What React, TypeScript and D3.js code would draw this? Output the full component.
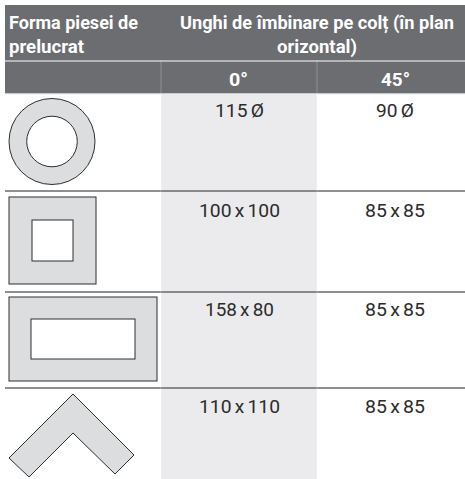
import React, { useEffect, useRef } from "react";
import * as d3 from "d3";

// table content
const headerShape = ["Forma piesei de", "prelucrat"];
const headerAngle = ["Unghi de îmbinare pe colț (în plan", "orizontal)"];
const angleLabels = ["0°", "45°"];
const values0 = ["115 Ø", "100 x 100", "158 x 80", "110 x 110"];
const values45 = ["90 Ø", "85 x 85", "85 x 85", "85 x 85"];

// workpiece outlines, in the drawing's own units
const circleRadii = [43, 25.3];
const squareSides = [87, 41];
const rectSides = [[148, 84], [104, 40]];
const angleOutline: [number, number][] = [
  [64, 0], [125, 61], [106, 80], [64, 39], [20, 83], [0, 64],
];

const width = 465;
const height = 479;
const font = "Roboto, 'Liberation Sans', sans-serif";

export default function App() {
  const ref = useRef<SVGSVGElement>(null);

  useEffect(() => {
    const svg = d3.select(ref.current);
    svg.selectAll("*").remove();

    const left = 5;
    const col1 = 161;
    const col2 = 317;
    const rowEdges = [94, 191, 292, 388];
    const baselines = [117, 217, 316, 413];

    // header blocks
    svg.append("rect").attr("x", left).attr("y", 5).attr("width", width - left).attr("height", 55.5).attr("fill", "#6c6d70");
    svg.append("rect").attr("x", left).attr("y", 61.5).attr("width", width - left).attr("height", 31.5).attr("fill", "#6c6d70");
    svg.append("rect").attr("x", left).attr("y", 93).attr("width", width - left).attr("height", 1.2).attr("fill", "#c9cacc");

    // shaded 0° column
    svg.append("rect").attr("x", col1).attr("y", 94).attr("width", col2 - col1).attr("height", 385).attr("fill", "#ebebed");

    // row rules
    svg.selectAll("rect.rule")
      .data(rowEdges.slice(1))
      .join("rect")
      .attr("class", "rule")
      .attr("x", left)
      .attr("y", (d) => d - 0.7)
      .attr("width", width - left)
      .attr("height", 1.4)
      .attr("fill", "#5f6063");

    // thin pale gaps between the columns
    svg.selectAll("rect.gap")
      .data([col1, col2])
      .join("rect")
      .attr("class", "gap")
      .attr("x", (d) => d - 0.4)
      .attr("y", 60)
      .attr("width", 0.8)
      .attr("height", 419)
      .attr("fill", "#fff")
      .attr("opacity", 0.3);

    // text is squeezed to the measured width, the original face is condensed
    const putText = (t: string, x: number, y: number, w: number, bold: boolean) =>
      svg.append("text")
        .attr("x", x)
        .attr("y", y)
        .attr("textLength", w)
        .attr("lengthAdjust", "spacingAndGlyphs")
        .attr("font-family", font)
        .attr("font-weight", bold ? 700 : 400)
        .attr("font-size", 19)
        .attr("word-spacing", bold ? 0 : -1.5)
        .attr("fill", bold ? "#fff" : "#2b2b2b")
        .text(t);

    putText(headerShape[0], 9, 29, 129, true);
    putText(headerShape[1], 9, 53, 75, true);
    putText(headerAngle[0], 180, 29, 274, true);
    putText(headerAngle[1], 277, 53, 80, true);
    putText(angleLabels[0], 229, 86, 19, true);
    putText(angleLabels[1], 381, 86, 29, true);

    // values, [start, width] of each cell as measured
    const extent0 = [[215, 49], [199, 81], [205, 69], [199, 81]];
    const extent45 = [[376, 38], [365, 60], [365, 60], [365, 60]];
    values0.forEach((t, i) => putText(t, extent0[i][0], baselines[i], extent0[i][1], false));
    values45.forEach((t, i) => putText(t, extent45[i][0], baselines[i], extent45[i][1], false));

    // workpiece shapes
    const g = svg.append("g").attr("stroke", "#2e2e30").attr("stroke-width", 1);
    const grey = "#dcddde";

    circleRadii.forEach((r, i) => {
      g.append("circle").attr("cx", 52).attr("cy", 141.5).attr("r", r).attr("fill", i === 0 ? grey : "#fff");
    });

    const boxes = [
      { sides: [[squareSides[0], squareSides[0]], [squareSides[1], squareSides[1]]], x: 52.5, y: 240.5 },
      { sides: rectSides, x: 83, y: 339 },
    ];
    boxes.forEach((b) => {
      b.sides.forEach(([w, h], i) => {
        g.append("rect")
          .attr("x", b.x - w / 2)
          .attr("y", b.y - h / 2)
          .attr("width", w)
          .attr("height", h)
          .attr("fill", i === 0 ? grey : "#fff");
      });
    });

    const ax = d3.scaleLinear().domain([0, 125]).range([9, 134]);
    const ay = d3.scaleLinear().domain([0, 83]).range([394, 477]);
    const line = d3.line<[number, number]>().x((d) => ax(d[0])).y((d) => ay(d[1]));
    g.append("path").attr("d", line(angleOutline) + "Z").attr("fill", grey);
  }, []);

  return (
    <svg
      ref={ref}
      width={width}
      height={height}
      style={{ position: "absolute", left: 0, top: 0, background: "#fff" }}
    />
  );
}
